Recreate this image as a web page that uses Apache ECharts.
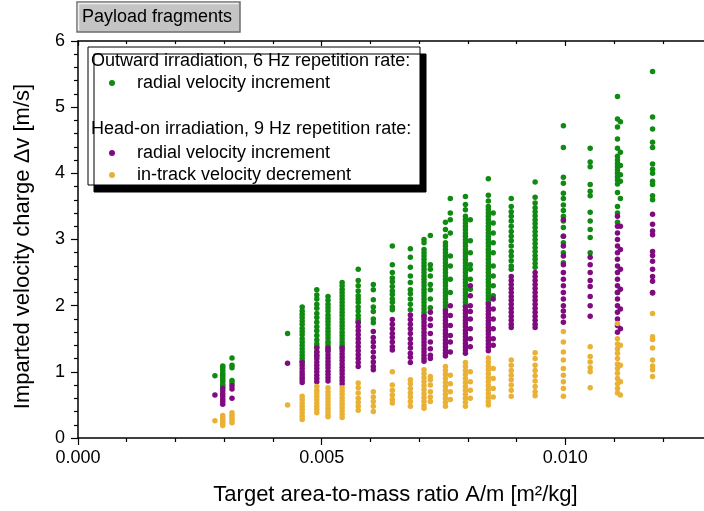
<!DOCTYPE html>
<html>
<head>
<meta charset="utf-8">
<script src="https://cdn.jsdelivr.net/npm/echarts@6/dist/echarts.min.js"></script>
<style>
  html, body { margin: 0; padding: 0; background: #fff; }
  #chart { width: 704px; height: 511px; }
</style>
</head>
<body>
<div id="chart"></div>
<script>
// column positions (A/m, m^2/kg) of the fragments
var xCols = [0.00281, 0.00297, 0.00316, 0.00430, 0.00460, 0.00490, 0.00513, 0.00542, 0.00575,
  0.00606, 0.00645, 0.00682, 0.00710, 0.00723, 0.00754, 0.00764, 0.00795, 0.00805, 0.00842,
  0.00852, 0.00889, 0.00938, 0.00996, 0.01051, 0.01107, 0.01113, 0.01179];

// outward irradiation, radial increment (green)
var outRadial = [
  [0.94],
  [1.09, 1.06, 1.02, 0.98, 0.95, 0.91, 0.88, 0.85, 0.81, 0.78],
  [1.21, 1.10, 1.06, 0.87, 0.83],
  [1.58],
  [1.98, 1.92, 1.87, 1.82, 1.77, 1.72, 1.66, 1.61, 1.56, 1.50, 1.45, 1.40, 1.35, 1.30, 1.25, 1.20, 1.16],
  [2.24, 2.16, 2.10, 2.02, 1.96, 1.88, 1.82, 1.75, 1.68, 1.62, 1.55, 1.48, 1.42, 1.38, 1.30, 1.24],
  [2.14, 2.08, 2.02, 1.97, 1.92, 1.86, 1.81, 1.76, 1.71, 1.66, 1.61, 1.56, 1.51, 1.46, 1.42, 1.38, 1.33],
  [2.35, 2.30, 2.25, 2.20, 2.15, 2.10, 2.05, 2.00, 1.95, 1.90, 1.85, 1.80, 1.75, 1.70, 1.65, 1.60, 1.55, 1.50, 1.45, 1.41, 1.37],
  [2.55, 2.38, 2.30, 2.22, 2.15, 2.10, 2.05, 1.98, 1.92, 1.85, 1.80, 1.76],
  [2.32, 2.24, 2.09, 1.98, 1.91, 1.80, 1.74],
  [2.90, 2.62, 2.50, 2.42, 2.36, 2.29, 2.22, 2.17, 2.10, 2.05, 1.98, 1.94],
  [2.86, 2.73, 2.58, 2.45, 2.35, 2.24, 2.18, 2.10, 2.02, 1.94],
  [3.00, 2.95, 2.85, 2.80, 2.75, 2.70, 2.65, 2.60, 2.55, 2.50, 2.45, 2.40, 2.35, 2.30, 2.25, 2.20, 2.15, 2.10, 2.05, 2.00, 1.95, 1.90, 1.85],
  [3.06, 2.62, 2.55, 2.45, 2.32, 2.24, 2.10, 1.97],
  [3.26, 3.15, 3.05, 2.95, 2.90, 2.85, 2.80, 2.75, 2.70, 2.65, 2.60, 2.55, 2.50, 2.45, 2.40, 2.35, 2.30, 2.25, 2.20, 2.15, 2.10, 2.05, 2.00, 1.95],
  [3.62, 3.40, 3.30, 3.10, 2.75, 2.60, 2.40, 2.20],
  [3.65, 3.53, 3.45, 3.35, 3.30, 3.25, 3.20, 3.15, 3.10, 3.05, 3.00, 2.95, 2.90, 2.85, 2.80, 2.75, 2.70, 2.65, 2.60, 2.55, 2.50, 2.45, 2.40, 2.35, 2.30, 2.25, 2.20, 2.15, 2.10, 2.05, 2.00],
  [3.30, 2.98, 2.80, 2.62, 2.55, 2.40, 2.25],
  [3.92, 3.67, 3.58, 3.50, 3.45, 3.40, 3.35, 3.30, 3.25, 3.20, 3.15, 3.10, 3.05, 3.00, 2.95, 2.90, 2.85, 2.80, 2.75, 2.70, 2.65, 2.60, 2.55, 2.50, 2.45, 2.40, 2.35, 2.30, 2.25, 2.20, 2.15, 2.10, 2.05],
  [3.40, 3.25, 3.10, 2.95, 2.80, 2.60, 2.45, 2.30, 2.15],
  [3.62, 3.50, 3.42, 3.35, 3.28, 3.20, 3.12, 3.05, 2.98, 2.90, 2.82, 2.75, 2.68, 2.60, 2.55],
  [3.87, 3.64, 3.55, 3.48, 3.42, 3.36, 3.30, 3.24, 3.18, 3.12, 3.06, 3.00, 2.94, 2.88, 2.82, 2.76, 2.70, 2.64, 2.58],
  [4.72, 4.39, 3.94, 3.85, 3.70, 3.62, 3.52, 3.44, 3.35, 3.28, 3.18, 3.05, 2.95, 2.80, 2.65],
  [4.38, 4.17, 4.10, 3.83, 3.73, 3.66, 3.41, 3.28, 3.15, 3.03, 2.80],
  [5.16, 4.82, 4.70, 4.52, 4.38, 4.26, 4.20, 4.15, 4.10, 4.05, 4.00, 3.95, 3.90, 3.84, 3.71, 3.50, 3.40, 3.26, 2.20],
  [4.78, 4.32, 4.12, 3.98, 3.88, 3.62],
  [5.54, 4.85, 4.67, 4.47, 4.39, 4.14, 4.06, 4.00, 3.88, 3.83, 3.66, 3.60]
];

// head-on irradiation, radial increment (purple)
var headRadial = [
  [0.65],
  [0.75, 0.71, 0.67, 0.63, 0.59, 0.55, 0.51],
  [0.79, 0.74, 0.60],
  [1.13],
  [1.14, 1.10, 1.05, 1.00, 0.96, 0.92, 0.88, 0.84],
  [1.36, 1.30, 1.25, 1.20, 1.15, 1.10, 1.05, 1.00, 0.95, 0.90, 0.85],
  [1.36, 1.31, 1.26, 1.21, 1.16, 1.11, 1.06, 1.01, 0.96, 0.91, 0.86],
  [1.36, 1.32, 1.27, 1.22, 1.17, 1.12, 1.07, 1.02, 0.97, 0.92, 0.87, 0.82],
  [1.74, 1.68, 1.62, 1.56, 1.50, 1.44, 1.38, 1.32, 1.26, 1.20, 1.14, 1.08],
  [1.61, 1.52, 1.45, 1.38, 1.30, 1.22, 1.15, 1.08, 1.03],
  [1.79, 1.72, 1.65, 1.58, 1.52, 1.45, 1.38, 1.33],
  [1.86, 1.79, 1.72, 1.65, 1.58, 1.50, 1.43, 1.36, 1.28, 1.22, 1.14],
  [1.84, 1.80, 1.75, 1.70, 1.65, 1.60, 1.55, 1.50, 1.45, 1.40, 1.35, 1.30, 1.25, 1.20, 1.16],
  [1.90, 1.80, 1.70, 1.58, 1.45, 1.35, 1.25, 1.20],
  [1.92, 1.88, 1.83, 1.78, 1.73, 1.68, 1.63, 1.58, 1.53, 1.48, 1.43, 1.38, 1.33, 1.28, 1.24],
  [2.00, 1.85, 1.70, 1.55, 1.45, 1.30],
  [1.98, 1.93, 1.88, 1.83, 1.78, 1.73, 1.68, 1.63, 1.58, 1.53, 1.48, 1.43, 1.38, 1.33, 1.28],
  [2.30, 2.15, 2.00, 1.91, 1.80, 1.65, 1.50, 1.38],
  [2.02, 1.97, 1.92, 1.87, 1.82, 1.77, 1.72, 1.67, 1.62, 1.57, 1.52, 1.47, 1.42, 1.37, 1.32],
  [2.10, 1.95, 1.80, 1.65, 1.50, 1.40],
  [2.44, 2.38, 2.32, 2.26, 2.20, 2.14, 2.08, 2.02, 1.96, 1.90, 1.84, 1.78, 1.72, 1.67],
  [2.50, 2.44, 2.38, 2.32, 2.26, 2.20, 2.14, 2.08, 2.02, 1.96, 1.90, 1.84, 1.78, 1.72, 1.67],
  [3.30, 3.05, 2.90, 2.75, 2.62, 2.50, 2.40, 2.30, 2.20, 2.10, 2.00, 1.92, 1.84, 1.75],
  [2.73, 2.62, 2.50, 2.38, 2.29, 2.14, 2.00, 1.84],
  [3.35, 3.20, 3.10, 3.00, 2.90, 2.80, 2.70, 2.60, 2.50, 2.40, 2.30, 2.20, 2.10, 2.00, 1.90, 1.80, 1.70, 1.60],
  [3.20, 2.85, 2.55, 2.25, 1.95, 1.65],
  [3.38, 3.23, 3.13, 3.07, 2.82, 2.76, 2.67, 2.55, 2.44, 2.37, 2.20, 2.19]
];

// head-on irradiation, in-track decrement (orange)
var headTrack = [
  [0.26],
  [0.34, 0.31, 0.28, 0.25, 0.22, 0.19],
  [0.38, 0.34, 0.30, 0.26, 0.23],
  [0.50],
  [0.63, 0.58, 0.53, 0.48, 0.43, 0.38, 0.33, 0.28],
  [0.78, 0.72, 0.68, 0.63, 0.58, 0.53, 0.48, 0.43, 0.38],
  [0.76, 0.70, 0.65, 0.60, 0.55, 0.50, 0.45, 0.40, 0.35, 0.32],
  [0.76, 0.71, 0.66, 0.61, 0.56, 0.51, 0.46, 0.41, 0.36, 0.31],
  [0.83, 0.76, 0.68, 0.60, 0.54, 0.48, 0.42],
  [0.70, 0.62, 0.55, 0.48, 0.40],
  [1.00, 0.80, 0.72, 0.65, 0.58, 0.53],
  [0.88, 0.82, 0.75, 0.68, 0.62, 0.55, 0.48],
  [1.03, 0.97, 0.91, 0.85, 0.79, 0.73, 0.67, 0.61, 0.55, 0.49, 0.45],
  [0.93, 0.88, 0.80, 0.70, 0.62, 0.55],
  [1.08, 1.02, 0.96, 0.90, 0.84, 0.78, 0.72, 0.66, 0.60, 0.54, 0.48],
  [0.95, 0.82, 0.70, 0.58],
  [1.14, 1.08, 1.02, 0.96, 0.90, 0.84, 0.78, 0.72, 0.66, 0.60, 0.54, 0.48],
  [1.00, 0.85, 0.72, 0.60],
  [1.21, 1.15, 1.09, 1.03, 0.97, 0.91, 0.85, 0.79, 0.73, 0.67, 0.61, 0.55, 0.50],
  [1.05, 0.90, 0.75, 0.62],
  [1.18, 1.10, 1.02, 0.95, 0.88, 0.80, 0.72, 0.63],
  [1.29, 1.20, 1.10, 1.02, 0.94, 0.86, 0.78, 0.70, 0.64],
  [1.61, 1.45, 1.30, 1.18, 1.05, 0.95, 0.85, 0.75, 0.63],
  [1.38, 1.23, 1.15, 1.06, 1.00, 0.76],
  [1.73, 1.50, 1.42, 1.35, 1.28, 1.20, 1.12, 1.05, 0.98, 0.90, 0.82, 0.75, 0.68],
  [1.40, 1.10, 0.85, 0.65],
  [1.88, 1.53, 1.49, 1.36, 1.18, 1.09, 1.03, 0.93]
];

var legendText = {
  outRadial: "radial velocity increment",
  headRadial: "radial velocity increment",
  headTrack: "in-track velocity decrement"
};

function toPoints(cols) {
  var pts = [];
  cols.forEach(function(ys, i) {
    ys.forEach(function(y) {
      pts.push([xCols[i], y]);
    });
  });
  return pts;
}

var font = "Liberation Sans, Arial, sans-serif";
var colors = ["#108a12", "#800a80", "#e9b135"];

var chart = echarts.init(document.getElementById("chart"));
chart.setOption({
  animation: false,
  color: colors,
  textStyle: { fontFamily: font },
  // the frame runs past the right edge of the picture
  grid: { left: 78, top: 41, bottom: 73, right: -105, outerBoundsMode: "none", containLabel: false },
  legend: [
    {
      data: ["outRadial"],
      left: 109, top: 74, padding: 0, z: 120,
      itemWidth: 6, itemHeight: 6, icon: "circle",
      selectedMode: false,
      formatter: function(n) { return legendText[n]; },
      textStyle: { fontSize: 18, color: "#000", fontFamily: font, padding: [0, 0, 0, 17], lineHeight: 18 }
    },
    {
      data: ["headRadial", "headTrack"],
      orient: "vertical",
      left: 109, top: 144, padding: 0, itemGap: 4, z: 120,
      itemWidth: 6, itemHeight: 6, icon: "circle",
      selectedMode: false,
      formatter: function(n) { return legendText[n]; },
      textStyle: { fontSize: 18, color: "#000", fontFamily: font, padding: [0, 0, 0, 17], lineHeight: 18 }
    }
  ],
  xAxis: [
    {
      type: "value", min: 0, max: 0.015, interval: 0.005,
      name: "Target area-to-mass ratio A/m [m²/kg]",
      nameLocation: "middle", nameGap: 46,
      nameTextStyle: { fontSize: 22, color: "#000", fontFamily: font, padding: [0, 96, 0, 0] },
      axisLine: { lineStyle: { color: "#000", width: 1.5 } },
      axisTick: { length: 7, lineStyle: { color: "#000", width: 1.2 } },
      minorTick: { show: true, splitNumber: 5, length: 4, lineStyle: { color: "#000", width: 1.2 } },
      axisLabel: { fontSize: 18, color: "#000", margin: 11, formatter: function(v) { return v.toFixed(3); } },
      splitLine: { show: false }
    },
    {
      type: "value", min: 0, max: 0.015, interval: 0.005, position: "top",
      axisLine: { lineStyle: { color: "#000", width: 1.5 } },
      axisTick: { inside: true, length: 5, lineStyle: { color: "#000", width: 1.2 } },
      minorTick: { show: true, splitNumber: 5, length: 3, lineStyle: { color: "#000", width: 1.2 } },
      axisLabel: { show: false },
      splitLine: { show: false }
    }
  ],
  yAxis: {
    type: "value", min: 0, max: 6, interval: 1,
    name: "Imparted velocity charge \u0394v [m/s]",
    nameLocation: "middle", nameGap: 44,
    nameTextStyle: { fontSize: 22, color: "#000", fontFamily: font, padding: [0, 14, 0, 0] },
    axisLine: { show: true, lineStyle: { color: "#000", width: 1.5 } },
    axisTick: { show: true, length: 7, lineStyle: { color: "#000", width: 1.2 } },
    minorTick: { show: true, splitNumber: 5, length: 4, lineStyle: { color: "#000", width: 1.2 } },
    axisLabel: { fontSize: 18, color: "#000", margin: 13 },
    splitLine: { show: false }
  },
  graphic: [
    {
      type: "rect", z: 100,
      shape: { x: 77, y: 2, width: 163, height: 30 },
      style: { fill: "#c4c4c4", stroke: "#6e6e6e", lineWidth: 1.5 }
    },
    {
      type: "polyline", z: 101,
      shape: { points: [[78.5, 30.5], [78.5, 3.5], [238.5, 3.5]] },
      style: { stroke: "#eeeeee", lineWidth: 1.5, fill: null }
    },
    {
      type: "text", z: 102, left: 82, top: 8,
      style: { text: "Payload fragments", fontSize: 18, fill: "#000", fontFamily: font }
    },
    {
      type: "rect", z: 100,
      shape: { x: 88, y: 47, width: 332, height: 138 },
      style: {
        fill: "#fff", stroke: "#000", lineWidth: 1,
        shadowColor: "#000", shadowBlur: 0, shadowOffsetX: 6, shadowOffsetY: 7
      }
    },
    {
      type: "text", z: 102, left: 91, top: 52,
      style: { text: "Outward irradiation, 6 Hz repetition rate:", fontSize: 18, fill: "#000", fontFamily: font }
    },
    {
      type: "text", z: 102, left: 91, top: 120,
      style: { text: "Head-on irradiation, 9 Hz repetition rate:", fontSize: 18, fill: "#000", fontFamily: font }
    }
  ],
  series: [
    { name: "outRadial", type: "scatter", symbolSize: 5.5, data: toPoints(outRadial), itemStyle: { opacity: 1 } },
    { name: "headRadial", type: "scatter", symbolSize: 5.5, data: toPoints(headRadial), itemStyle: { opacity: 1 } },
    { name: "headTrack", type: "scatter", symbolSize: 5.5, data: toPoints(headTrack), itemStyle: { opacity: 1 } }
  ]
});
</script>
</body>
</html>
